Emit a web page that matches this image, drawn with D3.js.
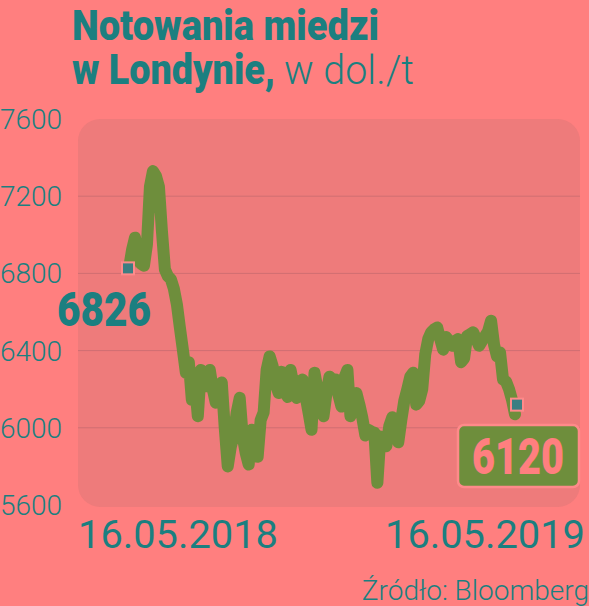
<!DOCTYPE html>
<html><head><meta charset="utf-8">
<script src="https://cdn.jsdelivr.net/npm/d3@7"></script>
<style>html,body{margin:0;padding:0;background:#FF7F7F;}svg{display:block;}</style>
</head><body>
<svg id="c" width="589" height="606"></svg>
<script>
const titleLine1 = "Notowania miedzi";
const titleLine2Bold = "w Londynie,";
const titleLine2Light = "w dol./t";
const source = "Źródło: Bloomberg";
const yTicks = [5600, 6000, 6400, 6800, 7200, 7600];
const xLabels = ["16.05.2018", "16.05.2019"];
const startValue = 6826;
const endValue = 6120;
const prices = [
6826,6920,6985,6910,6850,6840,6950,7250,7330,7305,
7250,7020,6820,6785,6770,6720,6640,6520,6405,6285,
6340,6145,6235,6060,6300,6240,6215,6300,6200,6130,
6215,6235,6000,5800,5900,5960,6080,6155,5955,5870,
5810,5990,5960,5850,6040,6080,6300,6370,6320,6230,
6180,6290,6200,6160,6300,6220,6155,6240,6250,6165,
6080,5990,6285,6200,6165,6060,6180,6265,6250,6250,
6170,6110,6260,6300,6060,6140,6180,6120,6050,5960,
5990,5980,5975,5715,5955,5930,5905,6010,6055,6000,
5925,6040,6140,6200,6265,6285,6120,6140,6200,6380,
6460,6495,6510,6520,6460,6405,6470,6450,6425,6450,
6460,6340,6360,6475,6485,6495,6460,6425,6450,6475,
6500,6555,6430,6370,6390,6250,6240,6200,6145,6070
];

const svg = d3.select("#c");
const teal = "#1B7F80";
const green = "#6E8E3C";
const pink = "#FF7F7F";

const y = d3.scaleLinear().domain([5600, 7600]).range([505, 119]);
const x = d3.scaleLinear().domain([0, prices.length - 1]).range([129, 515]);

// panel
svg.append("rect").attr("x", 78).attr("y", 119).attr("width", 502).attr("height", 388)
  .attr("rx", 22).attr("fill", "#EE7B7B");

// gridlines
const gridVals = [6000, 6400, 6800, 7200];
svg.append("g").selectAll("line").data(gridVals).join("line")
  .attr("x1", 78).attr("x2", 580)
  .attr("y1", d => y(d)).attr("y2", d => y(d))
  .attr("stroke", "#CF6E72").attr("stroke-width", 1);

// y tick labels
svg.append("g").selectAll("text").data(yTicks).join("text")
  .attr("x", 0).attr("y", d => y(d))
  .attr("dy", "0.36em")
  .attr("font-family", "Roboto").attr("font-weight", 300).attr("font-size", 28)
  .attr("fill", teal).text(d => d);

// line
const line = d3.line().x((d, i) => x(i)).y(d => y(d)).curve(d3.curveLinear);
svg.append("path").datum(prices).attr("d", line)
  .attr("fill", "none").attr("stroke", green).attr("stroke-width", 12)
  .attr("stroke-linejoin", "round").attr("stroke-linecap", "round");

// markers
function marker(cx, cy) {
  svg.append("rect").attr("x", cx - 6).attr("y", cy - 6).attr("width", 12).attr("height", 12)
    .attr("fill", "#3C7E82").attr("stroke", "#FF8A8A").attr("stroke-width", 2);
}
marker(x(0) - 1, y(startValue));
marker(x(prices.length - 1) + 2, y(endValue));

// start label
svg.append("text").attr("x", 57).attr("y", 326)
  .attr("font-family", "Roboto").attr("font-weight", 900).attr("font-size", 48)
  .attr("textLength", 94).attr("lengthAdjust", "spacingAndGlyphs")
  .attr("fill", teal).text(startValue);

// end label box
svg.append("rect").attr("x", 458).attr("y", 425).attr("width", 121).attr("height", 62)
  .attr("rx", 6).attr("fill", green).attr("stroke", "#FF8A8A").attr("stroke-width", 2.5);
svg.append("text").attr("x", 518).attr("y", 474).attr("text-anchor", "middle")
  .attr("font-family", "Roboto").attr("font-weight", 900).attr("font-size", 50)
  .attr("textLength", 92).attr("lengthAdjust", "spacingAndGlyphs")
  .attr("fill", pink).text(endValue);

// x labels
svg.append("text").attr("x", 78).attr("y", 548)
  .attr("font-family", "Roboto").attr("font-weight", 400).attr("font-size", 38)
  .attr("textLength", 200).attr("lengthAdjust", "spacingAndGlyphs")
  .attr("fill", teal).text(xLabels[0]);
svg.append("text").attr("x", 385).attr("y", 548)
  .attr("font-family", "Roboto").attr("font-weight", 400).attr("font-size", 38)
  .attr("textLength", 200).attr("lengthAdjust", "spacingAndGlyphs")
  .attr("fill", teal).text(xLabels[1]);

// title
svg.append("text").attr("x", 72).attr("y", 40)
  .attr("font-family", "Roboto").attr("font-weight", 900).attr("font-size", 42)
  .attr("textLength", 307).attr("lengthAdjust", "spacingAndGlyphs")
  .attr("fill", teal).text(titleLine1);
svg.append("text").attr("x", 72).attr("y", 84)
  .attr("font-family", "Roboto").attr("font-weight", 900).attr("font-size", 42)
  .attr("textLength", 203).attr("lengthAdjust", "spacingAndGlyphs")
  .attr("fill", teal).text(titleLine2Bold);
svg.append("text").attr("x", 284).attr("y", 84)
  .attr("font-family", "Roboto").attr("font-weight", 300).attr("font-size", 40)
  .attr("textLength", 130).attr("lengthAdjust", "spacingAndGlyphs")
  .attr("fill", teal).text(titleLine2Light);

// source
svg.append("text").attr("x", 589).attr("y", 600).attr("text-anchor", "end")
  .attr("font-family", "Roboto").attr("font-weight", 300).attr("font-size", 28)
  .attr("fill", teal).text(source);
</script>
</body></html>
